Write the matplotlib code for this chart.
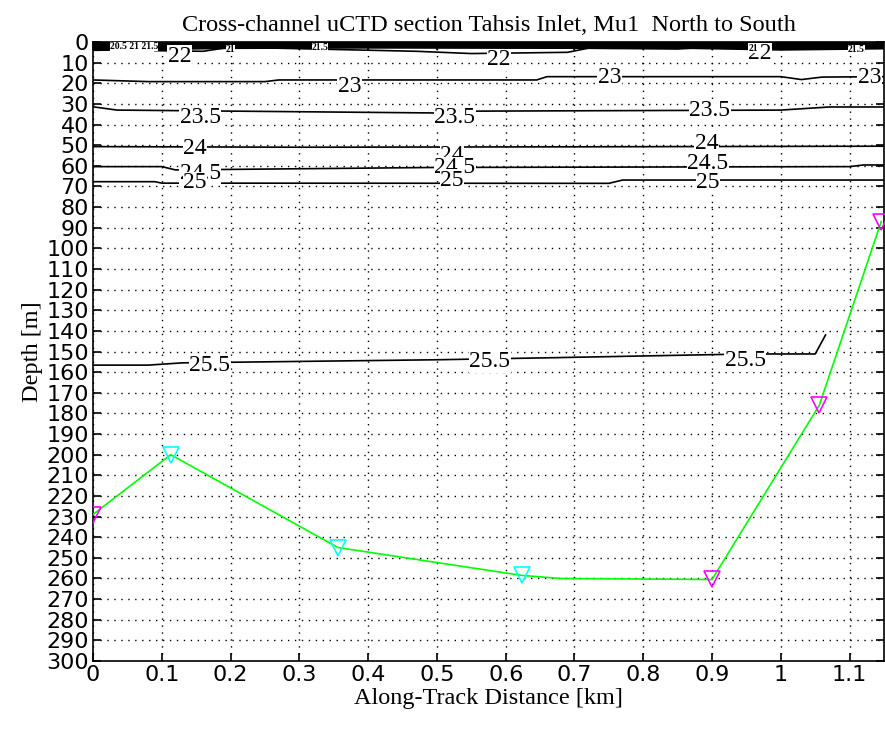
import matplotlib
matplotlib.use("Agg")
import matplotlib.pyplot as plt

# bottom track (station distance km, bottom depth m)
bot_x = [0.0, 0.113, 0.356, 0.623, 0.68, 0.9, 1.056, 1.146]
bot_d = [229, 200, 245, 258.5, 260, 260.5, 176, 87]
mag_x = [0.0, 0.9, 1.056, 1.146]
mag_d = [229, 260.5, 176, 87]
cyan_x = [0.113, 0.356, 0.623]
cyan_d = [200, 245, 258.5]

# isopycnal depths (sigma-t levels)
iso = {
    "20": ([0.0, 0.3, 0.6, 0.9, 1.15], [0.4, 0.5, 0.4, 0.6, 0.5]),
    "20.5": ([0.0, 0.2, 0.5, 0.8, 1.15], [1.2, 1.0, 0.9, 1.3, 1.4]),
    "21": ([0.0, 0.15, 0.3, 0.6, 0.75, 1.0, 1.15], [2.4, 1.8, 1.6, 1.7, 2.0, 2.6, 2.2]),
    "21.5": ([0.0, 0.08, 0.2, 0.4, 0.75, 0.85, 1.0, 1.15], [3.6, 3.2, 2.6, 2.4, 2.6, 2.5, 3.4, 2.8]),
    "22": ([0.09, 0.16, 0.2, 0.47, 0.55, 0.69, 0.72, 0.85, 0.87], [4.2, 4.5, 2.5, 4.5, 5.6, 5.0, 3.0, 3.4, 3.0]),
    "23": ([0.0, 0.08, 0.25, 0.27, 0.645, 0.66, 1.0, 1.03, 1.06, 1.15], [18.4, 19.2, 19.2, 18.4, 18.4, 16.8, 16.8, 18.2, 17.0, 16.8]),
    "23.5": ([0.0, 0.035, 0.5, 0.56, 1.0, 1.07, 1.15], [31.4, 33.0, 34.4, 33.5, 33.0, 31.5, 31.5]),
    "24": ([0.0, 0.3, 0.7, 1.15], [50.7, 51.0, 50.8, 50.5]),
    "24.5": ([0.0, 0.1, 0.12, 0.5, 1.1, 1.12, 1.15], [60.4, 60.4, 62.0, 60.8, 60.4, 59.6, 59.6]),
    "25": ([0.0, 0.09, 0.1, 0.75, 0.77, 1.15], [67.7, 67.7, 68.4, 68.5, 66.9, 66.9]),
    "25.5": ([0.0, 0.08, 0.13, 0.5, 0.67, 0.95, 1.05, 1.065], [156.6, 156.6, 155.5, 154.0, 153.0, 151.2, 151.2, 142.0]),
}

# label positions (km, m)
lab_text = ["22", "22", "22", "23", "23", "23", "23.5", "23.5", "23.5",
            "24", "24", "24", "24.5", "24.5", "24.5", "25", "25", "25",
            "25.5", "25.5", "25.5"]
lab_x = [0.126, 0.59, 0.97, 0.373, 0.751, 1.129, 0.156, 0.526, 0.897,
         0.148, 0.522, 0.892, 0.156, 0.526, 0.894, 0.148, 0.522, 0.894,
         0.17, 0.577, 0.948]
lab_d = [7.0, 8.5, 5.8, 21.5, 17.0, 17.0, 36.8, 36.8, 33.0,
         51.4, 54.8, 49.0, 63.5, 61.0, 59.0, 68.3, 66.9, 68.3,
         157.0, 155.0, 154.6]

tick_font = ["Liberation Sans Narrow", "DejaVu Sans"]
serif = ["Liberation Serif", "DejaVu Serif"]

fig = plt.figure(figsize=(8.85, 7.32), dpi=100)
ax = fig.add_axes([93 / 885, 1 - 661 / 732, 791 / 885, 619 / 732])

for lev, (xs, ds) in iso.items():
    lw = 2.5 if float(lev) < 22 else 1.2
    ax.plot(xs, ds, color="k", lw=lw, zorder=3)

# near-surface clutter labels
for t, x, d in [("20.5 21 21.5", 0.06, 2.0), ("21", 0.2, 3.5), ("21.5", 0.33, 2.5),
                ("21", 0.96, 3.0), ("21.5", 1.11, 3.5)]:
    ax.text(x, d, t, fontsize=7, family=serif, fontweight="bold", ha="center",
            va="center", color="k", zorder=5,
            bbox=dict(facecolor="white", edgecolor="none", pad=0))

for t, x, d in zip(lab_text, lab_x, lab_d):
    ax.text(x, d, t, fontsize=17, family=serif, ha="center", va="center",
            color="k", zorder=4,
            bbox=dict(facecolor="white", edgecolor="none", pad=0.3))

ax.plot(bot_x, bot_d, color=(0, 1, 0), lw=1.2, zorder=6)
ax.plot(mag_x, mag_d, linestyle="none", marker="v", ms=11, mfc="none",
        mec="magenta", mew=1.2, zorder=7)
ax.plot(cyan_x, cyan_d, linestyle="none", marker="v", ms=11, mfc="none",
        mec="cyan", mew=1.2, zorder=7)

ax.set_xlim(0, 1.15)
ax.set_ylim(300, 0)
ax.set_xticks([i / 10 for i in range(12)])
ax.set_xticklabels(["0", "0.1", "0.2", "0.3", "0.4", "0.5", "0.6", "0.7",
                    "0.8", "0.9", "1", "1.1"])
ax.set_yticks(range(0, 301, 10))
ax.grid(True, color="k", linestyle=(0, (1, 4)), lw=1)
ax.tick_params(direction="in", length=6, top=True, right=True, width=1.2,
               labelsize=16, pad=3)
for lbl in ax.get_xticklabels() + ax.get_yticklabels():
    lbl.set_family(tick_font)
for s in ax.spines.values():
    s.set_linewidth(1.2)

ax.set_title("Cross-channel uCTD section Tahsis Inlet, Mu1  North to South",
             family=serif, fontsize=17.5, pad=8)
ax.set_xlabel("Along-Track Distance [km]", family=serif, fontsize=17.5,
              labelpad=2)
ax.set_ylabel("Depth [m]", family=serif, fontsize=17.5, labelpad=2)

fig.savefig("out.png", dpi=100)
